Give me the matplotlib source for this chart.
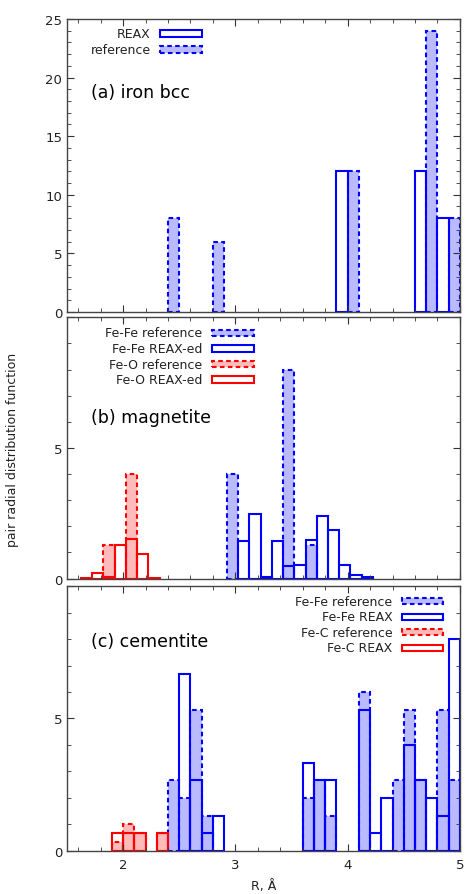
import numpy as np
import matplotlib
matplotlib.use('Agg')
from matplotlib import pyplot as plt
from matplotlib.patches import Rectangle
from matplotlib.ticker import MultipleLocator

# (a) iron bcc
bcc_r = [2.45, 2.85, 3.95, 4.05, 4.65, 4.75, 4.85, 4.95]
bcc_reax = [0, 0, 12, 0, 12, 0, 8, 0]
bcc_ref = [8, 6, 0, 12, 0, 24, 0, 8]

# (b) magnetite
mag_feo_r = [1.675, 1.775, 1.875, 1.975, 2.075, 2.175, 2.275]
mag_feo_reax = [0.02, 0.2, 0.04, 1.30, 1.53, 0.92, 0.02]
mag_feo_ref = [0, 0, 1.3, 0, 4, 0, 0]
mag_fefe_r = [2.975, 3.075, 3.175, 3.275, 3.375, 3.475, 3.575,
              3.675, 3.775, 3.875, 3.975, 4.075, 4.175]
mag_fefe_reax = [0, 1.43, 2.47, 0.06, 1.43, 0.48, 0.5, 1.49, 2.4, 1.86, 0.53, 0.13, 0.04]
mag_fefe_ref = [4, 0, 0, 0, 0, 8, 0, 1.3, 0, 0, 0, 0, 0]

# (c) cementite
cem_fec_r = [1.95, 2.05, 2.15, 2.25, 2.35]
cem_fec_reax = [0.67, 0.67, 0.67, 0, 0.67]
cem_fec_ref = [0.33, 1.0, 0.67, 0, 0.67]
cem_fefe_r = [2.45, 2.55, 2.65, 2.75, 2.85, 3.65, 3.75, 3.85,
              4.15, 4.25, 4.35, 4.45, 4.55, 4.65, 4.75, 4.85, 4.95]
cem_fefe_reax = [0, 6.67, 2.67, 0.67, 1.33, 3.33, 2.67, 2.67,
                 5.33, 0.67, 2.0, 0, 4.0, 2.67, 2.0, 1.33, 8.0]
cem_fefe_ref = [2.67, 2.0, 5.33, 1.33, 0, 2.0, 2.67, 1.33,
                6.0, 0, 0, 2.67, 5.33, 2.67, 0, 5.33, 2.67]

BIN = 0.1
BLUE = '#0000ff'
RED = '#ff0000'
DASH = (0, (2.2, 1.6))
LW = 1.5


def ref_bars(ax, r, h, color):
    r, h = np.array(r), np.array(h)
    m = h > 0
    ax.bar(r[m], h[m], width=BIN, color=color, alpha=0.27, linewidth=0)
    ax.bar(r[m], h[m], width=BIN, fill=False, edgecolor=color,
           linewidth=LW, linestyle=DASH)


def reax_bars(ax, r, h, color):
    r, h = np.array(r), np.array(h)
    m = h > 0
    ax.bar(r[m], h[m], width=BIN, fill=False, edgecolor=color, linewidth=LW)


def key(ax, y, label, color, ref, xr):
    # gnuplot style key: text right-aligned, sample box to its right
    ax.text(xr, y, label, transform=ax.transAxes, ha='right', va='center',
            fontsize=9, color='#222222')
    x0 = xr + 0.025
    w, hgt = 0.105, 0.024
    if ref:
        ax.add_patch(Rectangle((x0, y - hgt / 2), w, hgt, transform=ax.transAxes,
                               facecolor=color, alpha=0.27, linewidth=0))
        ax.add_patch(Rectangle((x0, y - hgt / 2), w, hgt, transform=ax.transAxes,
                               fill=False, edgecolor=color, linewidth=LW, linestyle=DASH))
    else:
        ax.add_patch(Rectangle((x0, y - hgt / 2), w, hgt, transform=ax.transAxes,
                               fill=False, edgecolor=color, linewidth=LW))


def style(ax, ymax, ylabels):
    ax.set_xlim(1.5, 5.0)
    ax.set_ylim(0, ymax)
    ax.xaxis.set_major_locator(MultipleLocator(1))
    ax.xaxis.set_minor_locator(MultipleLocator(0.2))
    ax.yaxis.set_major_locator(MultipleLocator(5))
    ax.yaxis.set_minor_locator(MultipleLocator(1))
    ax.tick_params(which='both', direction='in', top=True, right=True,
                   colors='#333333', labelsize=9.5, labelcolor='#222222')
    ax.tick_params(which='major', length=5)
    ax.tick_params(which='minor', length=3)
    ax.set_yticks(ylabels)
    for s in ax.spines.values():
        s.set_color('#444444')
        s.set_linewidth(1.0)


fig = plt.figure(figsize=(4.65, 8.95), dpi=100)
ax_a = fig.add_axes([0.144, 0.6503, 0.845, 0.3274])
ax_b = fig.add_axes([0.144, 0.3525, 0.845, 0.2919])
ax_c = fig.add_axes([0.144, 0.0484, 0.845, 0.2954])

# panel a
ref_bars(ax_a, bcc_r, bcc_ref, BLUE)
reax_bars(ax_a, bcc_r, bcc_reax, BLUE)
style(ax_a, 25, [0, 5, 10, 15, 20, 25])
ax_a.set_xticklabels([])
ax_a.text(0.06, 0.735, '(a) iron bcc', transform=ax_a.transAxes, fontsize=12.5)
key(ax_a, 0.95, 'REAX', BLUE, False, 0.213)
key(ax_a, 0.895, 'reference', BLUE, True, 0.213)

# panel b
ref_bars(ax_b, mag_fefe_r, mag_fefe_ref, BLUE)
ref_bars(ax_b, mag_feo_r, mag_feo_ref, RED)
reax_bars(ax_b, mag_fefe_r, mag_fefe_reax, BLUE)
reax_bars(ax_b, mag_feo_r, mag_feo_reax, RED)
style(ax_b, 10, [0, 5, 10])
ax_b.set_yticklabels(['0', '5', ''])
ax_b.set_xticklabels([])
ax_b.text(0.06, 0.6, '(b) magnetite', transform=ax_b.transAxes, fontsize=12.5)
key(ax_b, 0.94, 'Fe-Fe reference', BLUE, True, 0.345)
key(ax_b, 0.88, 'Fe-Fe REAX-ed', BLUE, False, 0.345)
key(ax_b, 0.82, 'Fe-O reference', RED, True, 0.345)
key(ax_b, 0.762, 'Fe-O REAX-ed', RED, False, 0.345)

# panel c
ref_bars(ax_c, cem_fefe_r, cem_fefe_ref, BLUE)
ref_bars(ax_c, cem_fec_r, cem_fec_ref, RED)
reax_bars(ax_c, cem_fefe_r, cem_fefe_reax, BLUE)
reax_bars(ax_c, cem_fec_r, cem_fec_reax, RED)
style(ax_c, 10, [0, 5, 10])
ax_c.set_yticklabels(['0', '5', ''])
ax_c.set_xticks([2, 3, 4, 5])
ax_c.tick_params(axis='x', pad=5)
ax_c.text(0.06, 0.775, '(c) cementite', transform=ax_c.transAxes, fontsize=12.5)
key(ax_c, 0.944, 'Fe-Fe reference', BLUE, True, 0.828)
key(ax_c, 0.885, 'Fe-Fe REAX', BLUE, False, 0.828)
key(ax_c, 0.826, 'Fe-C reference', RED, True, 0.828)
key(ax_c, 0.767, 'Fe-C REAX', RED, False, 0.828)
ax_c.set_xlabel('R, Å', fontsize=9, color='#222222', labelpad=6)

fig.text(0.026, 0.497, 'pair radial distribution function', rotation=90,
         ha='center', va='center', fontsize=9, color='#222222')

plt.savefig('out.png', dpi=100)
